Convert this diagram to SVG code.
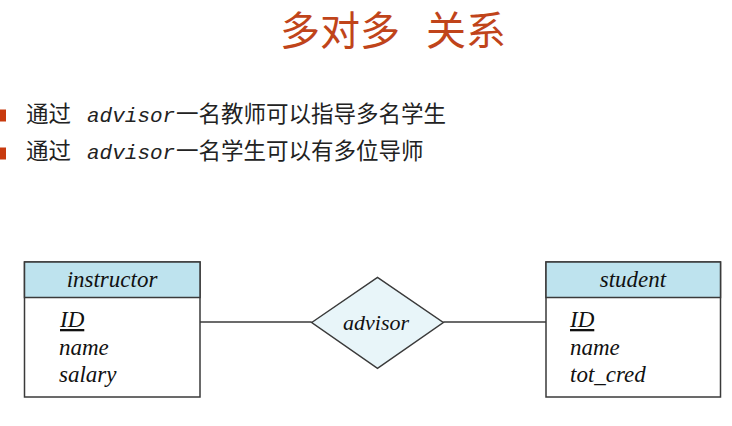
<svg xmlns="http://www.w3.org/2000/svg" width="732" height="426" viewBox="0 0 732 426">
<style>
.title{font-family:"Noto Sans CJK SC","Noto Sans",sans-serif;font-size:40px;fill:#C0441A}
.bul{fill:#C83A0E}
.line{font-family:"Noto Sans CJK SC","Noto Sans",sans-serif;font-size:22.5px;fill:#222}
.mono{font-family:"Liberation Mono","DejaVu Sans Mono",monospace;font-style:italic;font-size:21px}
.box{fill:#fff;stroke:#3a3a3a;stroke-width:1.5}
.hdr{fill:#BEE3EE;stroke:#3a3a3a;stroke-width:1.5}
.dia{fill:#E8F5F9;stroke:#3a3a3a;stroke-width:1.5}
.conn{stroke:#3a3a3a;stroke-width:1.5;fill:none}
.er{font-family:"Liberation Serif","Times New Roman",serif;font-style:italic;font-size:23px;fill:#111}
.c{text-anchor:middle}
</style>
<text class="title" x="280" y="45">多对多<tspan x="426">关系</tspan></text>
<rect class="bul" x="0" y="109.5" width="6" height="12"/>
<rect class="bul" x="0" y="147.5" width="6" height="12"/>
<text class="line" x="26" y="121.5">通过 <tspan class="mono" x="87">advisor</tspan><tspan x="176">一名教师可以指导多名学生</tspan></text>
<text class="line" x="26" y="158.5">通过 <tspan class="mono" x="87">advisor</tspan><tspan x="176">一名学生可以有多位导师</tspan></text>
<g id="connectors">
<line class="conn" x1="200" y1="322" x2="311.7" y2="322"/>
<line class="conn" x1="443.3" y1="322" x2="546" y2="322"/>
</g>
<g id="instructor">
<rect class="box" x="24.5" y="262" width="175.5" height="135"/>
<rect class="hdr" x="24.5" y="262" width="175.5" height="35.5"/>
<text class="er c" x="112" y="287">instructor</text>
<text class="er" x="60" y="327" text-decoration="underline">ID</text>
<text class="er" x="59" y="355">name</text>
<text class="er" x="59" y="382">salary</text>
</g>
<g id="advisor">
<polygon class="dia" points="311.7,322.5 377.5,277.3 443.3,322.5 377.5,368.3"/>
<text class="er c" x="376" y="330" style="font-size:22px">advisor</text>
</g>
<g id="student">
<rect class="box" x="546" y="262" width="174.5" height="135"/>
<rect class="hdr" x="546" y="262" width="174.5" height="35.5"/>
<text class="er c" x="633" y="287">student</text>
<text class="er" x="570" y="327" text-decoration="underline">ID</text>
<text class="er" x="570" y="355">name</text>
<text class="er" x="570" y="382">tot_cred</text>
</g>
</svg>
